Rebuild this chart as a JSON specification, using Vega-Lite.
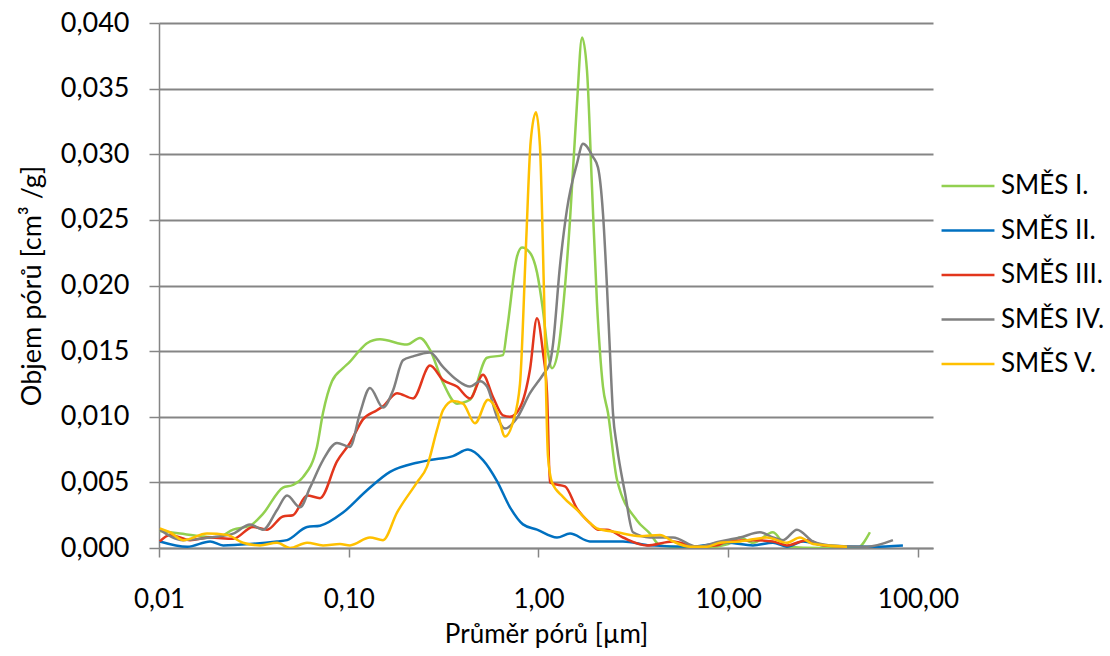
{
  "$schema": "https://vega.github.io/schema/vega-lite/v6.json",
  "autosize": "none",
  "padding": {"left": 159, "top": 23, "right": 177, "bottom": 108},
  "width": 774,
  "height": 525,
  "background": "white",
  "config": {
    "font": "Lato",
    "view": {"stroke": null}
  },
  "datasets": {
    "pores": [
      {"s": "SMĚS I.", "d": 0.0101, "v": 0.0013},
      {"s": "SMĚS I.", "d": 0.0129, "v": 0.0011},
      {"s": "SMĚS I.", "d": 0.0165, "v": 0.0009},
      {"s": "SMĚS I.", "d": 0.0202, "v": 0.0008},
      {"s": "SMĚS I.", "d": 0.0246, "v": 0.0014},
      {"s": "SMĚS I.", "d": 0.0302, "v": 0.0017},
      {"s": "SMĚS I.", "d": 0.0353, "v": 0.0026},
      {"s": "SMĚS I.", "d": 0.0450, "v": 0.0046},
      {"s": "SMĚS I.", "d": 0.0508, "v": 0.0048},
      {"s": "SMĚS I.", "d": 0.0574, "v": 0.0054},
      {"s": "SMĚS I.", "d": 0.0680, "v": 0.0077},
      {"s": "SMĚS I.", "d": 0.0732, "v": 0.0103},
      {"s": "SMĚS I.", "d": 0.0816, "v": 0.0127},
      {"s": "SMĚS I.", "d": 0.0933, "v": 0.0137},
      {"s": "SMĚS I.", "d": 0.1015, "v": 0.0142},
      {"s": "SMĚS I.", "d": 0.1147, "v": 0.0151},
      {"s": "SMĚS I.", "d": 0.1248, "v": 0.0156},
      {"s": "SMĚS I.", "d": 0.1461, "v": 0.0159},
      {"s": "SMĚS I.", "d": 0.2028, "v": 0.0155},
      {"s": "SMĚS I.", "d": 0.2374, "v": 0.0160},
      {"s": "SMĚS I.", "d": 0.2681, "v": 0.0151},
      {"s": "SMĚS I.", "d": 0.3139, "v": 0.0126},
      {"s": "SMĚS I.", "d": 0.3719, "v": 0.0110},
      {"s": "SMĚS I.", "d": 0.4356, "v": 0.0113},
      {"s": "SMĚS I.", "d": 0.5355, "v": 0.0145},
      {"s": "SMĚS I.", "d": 0.6500, "v": 0.0147},
      {"s": "SMĚS I.", "d": 0.6823, "v": 0.0166},
      {"s": "SMĚS I.", "d": 0.7704, "v": 0.0222},
      {"s": "SMĚS I.", "d": 0.8185, "v": 0.0229},
      {"s": "SMĚS I.", "d": 0.9020, "v": 0.0225},
      {"s": "SMĚS I.", "d": 0.9820, "v": 0.0210},
      {"s": "SMĚS I.", "d": 1.0561, "v": 0.0181},
      {"s": "SMĚS I.", "d": 1.122, "v": 0.0149},
      {"s": "SMĚS I.", "d": 1.178, "v": 0.0137},
      {"s": "SMĚS I.", "d": 1.267, "v": 0.0150},
      {"s": "SMĚS I.", "d": 1.379, "v": 0.0199},
      {"s": "SMĚS I.", "d": 1.466, "v": 0.0250},
      {"s": "SMĚS I.", "d": 1.596, "v": 0.0339},
      {"s": "SMĚS I.", "d": 1.696, "v": 0.0389},
      {"s": "SMĚS I.", "d": 1.801, "v": 0.0364},
      {"s": "SMĚS I.", "d": 1.914, "v": 0.0275},
      {"s": "SMĚS I.", "d": 2.033, "v": 0.0187},
      {"s": "SMĚS I.", "d": 2.187, "v": 0.0123},
      {"s": "SMĚS I.", "d": 2.324, "v": 0.0103},
      {"s": "SMĚS I.", "d": 2.593, "v": 0.0052},
      {"s": "SMĚS I.", "d": 3.304, "v": 0.0021},
      {"s": "SMĚS I.", "d": 3.869, "v": 0.0011},
      {"s": "SMĚS I.", "d": 4.369, "v": 0.0002},
      {"s": "SMĚS I.", "d": 5.115, "v": 0.0001},
      {"s": "SMĚS I.", "d": 7.099, "v": 0.0000},
      {"s": "SMĚS I.", "d": 10.0, "v": 0.0003},
      {"s": "SMĚS I.", "d": 11.53, "v": 0.0008},
      {"s": "SMĚS I.", "d": 13.5, "v": 0.0004},
      {"s": "SMĚS I.", "d": 17.21, "v": 0.0012},
      {"s": "SMĚS I.", "d": 20.4, "v": 0.0001},
      {"s": "SMĚS I.", "d": 30.44, "v": 0.0000},
      {"s": "SMĚS I.", "d": 47.7, "v": 0.0000},
      {"s": "SMĚS I.", "d": 55.8, "v": 0.0012},

      {"s": "SMĚS II.", "d": 0.0101, "v": 0.0005},
      {"s": "SMĚS II.", "d": 0.0141, "v": 0.0001},
      {"s": "SMĚS II.", "d": 0.0186, "v": 0.0005},
      {"s": "SMĚS II.", "d": 0.0218, "v": 0.0002},
      {"s": "SMĚS II.", "d": 0.0302, "v": 0.0003},
      {"s": "SMĚS II.", "d": 0.0419, "v": 0.0005},
      {"s": "SMĚS II.", "d": 0.0473, "v": 0.0006},
      {"s": "SMĚS II.", "d": 0.0603, "v": 0.0016},
      {"s": "SMĚS II.", "d": 0.0706, "v": 0.0017},
      {"s": "SMĚS II.", "d": 0.0933, "v": 0.0027},
      {"s": "SMĚS II.", "d": 0.1248, "v": 0.0044},
      {"s": "SMĚS II.", "d": 0.1650, "v": 0.0058},
      {"s": "SMĚS II.", "d": 0.2289, "v": 0.0065},
      {"s": "SMĚS II.", "d": 0.2681, "v": 0.0067},
      {"s": "SMĚS II.", "d": 0.3542, "v": 0.0070},
      {"s": "SMĚS II.", "d": 0.4251, "v": 0.0075},
      {"s": "SMĚS II.", "d": 0.5100, "v": 0.0067},
      {"s": "SMĚS II.", "d": 0.6045, "v": 0.0051},
      {"s": "SMĚS II.", "d": 0.7076, "v": 0.0031},
      {"s": "SMĚS II.", "d": 0.8285, "v": 0.0018},
      {"s": "SMĚS II.", "d": 0.9820, "v": 0.0014},
      {"s": "SMĚS II.", "d": 1.252, "v": 0.0008},
      {"s": "SMĚS II.", "d": 1.466, "v": 0.0011},
      {"s": "SMĚS II.", "d": 1.868, "v": 0.0005},
      {"s": "SMĚS II.", "d": 2.788, "v": 0.0005},
      {"s": "SMĚS II.", "d": 3.869, "v": 0.0002},
      {"s": "SMĚS II.", "d": 6.287, "v": 0.0001},
      {"s": "SMĚS II.", "d": 9.85, "v": 0.0004},
      {"s": "SMĚS II.", "d": 13.5, "v": 0.0002},
      {"s": "SMĚS II.", "d": 17.21, "v": 0.0004},
      {"s": "SMĚS II.", "d": 20.4, "v": 0.0001},
      {"s": "SMĚS II.", "d": 24.77, "v": 0.0005},
      {"s": "SMĚS II.", "d": 31.57, "v": 0.0002},
      {"s": "SMĚS II.", "d": 57.9, "v": 0.0001},
      {"s": "SMĚS II.", "d": 83.3, "v": 0.0002},

      {"s": "SMĚS III.", "d": 0.0101, "v": 0.0005},
      {"s": "SMĚS III.", "d": 0.0114, "v": 0.0010},
      {"s": "SMĚS III.", "d": 0.0146, "v": 0.0006},
      {"s": "SMĚS III.", "d": 0.0186, "v": 0.0008},
      {"s": "SMĚS III.", "d": 0.0246, "v": 0.0007},
      {"s": "SMĚS III.", "d": 0.0313, "v": 0.0016},
      {"s": "SMĚS III.", "d": 0.0371, "v": 0.0014},
      {"s": "SMĚS III.", "d": 0.0450, "v": 0.0024},
      {"s": "SMĚS III.", "d": 0.0508, "v": 0.0025},
      {"s": "SMĚS III.", "d": 0.0603, "v": 0.0040},
      {"s": "SMĚS III.", "d": 0.0706, "v": 0.0038},
      {"s": "SMĚS III.", "d": 0.0867, "v": 0.0066},
      {"s": "SMĚS III.", "d": 0.1015, "v": 0.0080},
      {"s": "SMĚS III.", "d": 0.1189, "v": 0.0098},
      {"s": "SMĚS III.", "d": 0.1409, "v": 0.0105},
      {"s": "SMĚS III.", "d": 0.1516, "v": 0.0108},
      {"s": "SMĚS III.", "d": 0.1796, "v": 0.0118},
      {"s": "SMĚS III.", "d": 0.2182, "v": 0.0114},
      {"s": "SMĚS III.", "d": 0.2681, "v": 0.0139},
      {"s": "SMĚS III.", "d": 0.3139, "v": 0.0128},
      {"s": "SMĚS III.", "d": 0.3719, "v": 0.0123},
      {"s": "SMĚS III.", "d": 0.4356, "v": 0.0114},
      {"s": "SMĚS III.", "d": 0.5100, "v": 0.0132},
      {"s": "SMĚS III.", "d": 0.5757, "v": 0.0115},
      {"s": "SMĚS III.", "d": 0.6500, "v": 0.0101},
      {"s": "SMĚS III.", "d": 0.7076, "v": 0.0100},
      {"s": "SMĚS III.", "d": 0.7989, "v": 0.0107},
      {"s": "SMĚS III.", "d": 0.9020, "v": 0.0136},
      {"s": "SMĚS III.", "d": 0.9820, "v": 0.0175},
      {"s": "SMĚS III.", "d": 1.056, "v": 0.0149},
      {"s": "SMĚS III.", "d": 1.109, "v": 0.0118},
      {"s": "SMĚS III.", "d": 1.150, "v": 0.0050},
      {"s": "SMĚS III.", "d": 1.193, "v": 0.0049},
      {"s": "SMĚS III.", "d": 1.379, "v": 0.0047},
      {"s": "SMĚS III.", "d": 1.596, "v": 0.0030},
      {"s": "SMĚS III.", "d": 1.868, "v": 0.0019},
      {"s": "SMĚS III.", "d": 2.070, "v": 0.0014},
      {"s": "SMĚS III.", "d": 2.296, "v": 0.0014},
      {"s": "SMĚS III.", "d": 2.788, "v": 0.0008},
      {"s": "SMĚS III.", "d": 3.730, "v": 0.0002},
      {"s": "SMĚS III.", "d": 5.115, "v": 0.0005},
      {"s": "SMĚS III.", "d": 6.844, "v": 0.0001},
      {"s": "SMĚS III.", "d": 8.72, "v": 0.0002},
      {"s": "SMĚS III.", "d": 9.85, "v": 0.0005},
      {"s": "SMĚS III.", "d": 13.5, "v": 0.0006},
      {"s": "SMĚS III.", "d": 17.21, "v": 0.0005},
      {"s": "SMĚS III.", "d": 20.4, "v": 0.0002},
      {"s": "SMĚS III.", "d": 26.0, "v": 0.0006},
      {"s": "SMĚS III.", "d": 31.57, "v": 0.0002},
      {"s": "SMĚS III.", "d": 42.25, "v": 0.0001},

      {"s": "SMĚS IV.", "d": 0.0101, "v": 0.0014},
      {"s": "SMĚS IV.", "d": 0.0134, "v": 0.0006},
      {"s": "SMĚS IV.", "d": 0.0186, "v": 0.0008},
      {"s": "SMĚS IV.", "d": 0.0246, "v": 0.0011},
      {"s": "SMĚS IV.", "d": 0.0302, "v": 0.0018},
      {"s": "SMĚS IV.", "d": 0.0353, "v": 0.0014},
      {"s": "SMĚS IV.", "d": 0.0419, "v": 0.0029},
      {"s": "SMĚS IV.", "d": 0.0473, "v": 0.0040},
      {"s": "SMĚS IV.", "d": 0.0554, "v": 0.0031},
      {"s": "SMĚS IV.", "d": 0.0625, "v": 0.0046},
      {"s": "SMĚS IV.", "d": 0.0732, "v": 0.0067},
      {"s": "SMĚS IV.", "d": 0.0867, "v": 0.0080},
      {"s": "SMĚS IV.", "d": 0.1015, "v": 0.0077},
      {"s": "SMĚS IV.", "d": 0.1147, "v": 0.0103},
      {"s": "SMĚS IV.", "d": 0.1294, "v": 0.0122},
      {"s": "SMĚS IV.", "d": 0.1516, "v": 0.0107},
      {"s": "SMĚS IV.", "d": 0.1711, "v": 0.0120},
      {"s": "SMĚS IV.", "d": 0.1931, "v": 0.0143},
      {"s": "SMĚS IV.", "d": 0.2182, "v": 0.0146},
      {"s": "SMĚS IV.", "d": 0.2681, "v": 0.0149},
      {"s": "SMĚS IV.", "d": 0.3139, "v": 0.0138},
      {"s": "SMĚS IV.", "d": 0.3719, "v": 0.0128},
      {"s": "SMĚS IV.", "d": 0.4356, "v": 0.0123},
      {"s": "SMĚS IV.", "d": 0.4918, "v": 0.0127},
      {"s": "SMĚS IV.", "d": 0.5355, "v": 0.0123},
      {"s": "SMĚS IV.", "d": 0.6045, "v": 0.0100},
      {"s": "SMĚS IV.", "d": 0.6662, "v": 0.0091},
      {"s": "SMĚS IV.", "d": 0.7704, "v": 0.0099},
      {"s": "SMĚS IV.", "d": 0.9020, "v": 0.0118},
      {"s": "SMĚS IV.", "d": 1.056, "v": 0.0132},
      {"s": "SMĚS IV.", "d": 1.150, "v": 0.0141},
      {"s": "SMĚS IV.", "d": 1.192, "v": 0.0155},
      {"s": "SMĚS IV.", "d": 1.298, "v": 0.0215},
      {"s": "SMĚS IV.", "d": 1.413, "v": 0.0258},
      {"s": "SMĚS IV.", "d": 1.596, "v": 0.0293},
      {"s": "SMĚS IV.", "d": 1.716, "v": 0.0308},
      {"s": "SMĚS IV.", "d": 1.937, "v": 0.0298},
      {"s": "SMĚS IV.", "d": 2.058, "v": 0.0290},
      {"s": "SMĚS IV.", "d": 2.187, "v": 0.0255},
      {"s": "SMĚS IV.", "d": 2.296, "v": 0.0199},
      {"s": "SMĚS IV.", "d": 2.381, "v": 0.0149},
      {"s": "SMĚS IV.", "d": 2.469, "v": 0.0103},
      {"s": "SMĚS IV.", "d": 2.593, "v": 0.0077},
      {"s": "SMĚS IV.", "d": 2.857, "v": 0.0042},
      {"s": "SMĚS IV.", "d": 3.148, "v": 0.0012},
      {"s": "SMĚS IV.", "d": 3.869, "v": 0.0008},
      {"s": "SMĚS IV.", "d": 5.115, "v": 0.0008},
      {"s": "SMĚS IV.", "d": 6.844, "v": 0.0001},
      {"s": "SMĚS IV.", "d": 9.05, "v": 0.0005},
      {"s": "SMĚS IV.", "d": 11.53, "v": 0.0008},
      {"s": "SMĚS IV.", "d": 14.70, "v": 0.0012},
      {"s": "SMĚS IV.", "d": 17.21, "v": 0.0008},
      {"s": "SMĚS IV.", "d": 19.44, "v": 0.0006},
      {"s": "SMĚS IV.", "d": 23.03, "v": 0.0014},
      {"s": "SMĚS IV.", "d": 27.97, "v": 0.0005},
      {"s": "SMĚS IV.", "d": 34.38, "v": 0.0002},
      {"s": "SMĚS IV.", "d": 53.85, "v": 0.0001},
      {"s": "SMĚS IV.", "d": 73.8, "v": 0.0006},

      {"s": "SMĚS V.", "d": 0.0101, "v": 0.0015},
      {"s": "SMĚS V.", "d": 0.0114, "v": 0.0012},
      {"s": "SMĚS V.", "d": 0.0134, "v": 0.0006},
      {"s": "SMĚS V.", "d": 0.0179, "v": 0.0011},
      {"s": "SMĚS V.", "d": 0.0228, "v": 0.0010},
      {"s": "SMĚS V.", "d": 0.0277, "v": 0.0004},
      {"s": "SMĚS V.", "d": 0.0341, "v": 0.0002},
      {"s": "SMĚS V.", "d": 0.0419, "v": 0.0004},
      {"s": "SMĚS V.", "d": 0.0490, "v": 0.0000},
      {"s": "SMĚS V.", "d": 0.0603, "v": 0.0004},
      {"s": "SMĚS V.", "d": 0.0732, "v": 0.0002},
      {"s": "SMĚS V.", "d": 0.0899, "v": 0.0003},
      {"s": "SMĚS V.", "d": 0.1015, "v": 0.0002},
      {"s": "SMĚS V.", "d": 0.1294, "v": 0.0008},
      {"s": "SMĚS V.", "d": 0.1516, "v": 0.0006},
      {"s": "SMĚS V.", "d": 0.1796, "v": 0.0027},
      {"s": "SMĚS V.", "d": 0.2289, "v": 0.0050},
      {"s": "SMĚS V.", "d": 0.2585, "v": 0.0062},
      {"s": "SMĚS V.", "d": 0.2918, "v": 0.0090},
      {"s": "SMĚS V.", "d": 0.3139, "v": 0.0105},
      {"s": "SMĚS V.", "d": 0.3542, "v": 0.0112},
      {"s": "SMĚS V.", "d": 0.4000, "v": 0.0110},
      {"s": "SMĚS V.", "d": 0.4627, "v": 0.0095},
      {"s": "SMĚS V.", "d": 0.5421, "v": 0.0113},
      {"s": "SMĚS V.", "d": 0.6045, "v": 0.0104},
      {"s": "SMĚS V.", "d": 0.6662, "v": 0.0085},
      {"s": "SMĚS V.", "d": 0.7337, "v": 0.0096},
      {"s": "SMĚS V.", "d": 0.7989, "v": 0.0125},
      {"s": "SMĚS V.", "d": 0.8590, "v": 0.0230},
      {"s": "SMĚS V.", "d": 0.9100, "v": 0.0310},
      {"s": "SMĚS V.", "d": 0.9701, "v": 0.0332},
      {"s": "SMĚS V.", "d": 1.018, "v": 0.0306},
      {"s": "SMĚS V.", "d": 1.067, "v": 0.0200},
      {"s": "SMĚS V.", "d": 1.122, "v": 0.0070},
      {"s": "SMĚS V.", "d": 1.178, "v": 0.0050},
      {"s": "SMĚS V.", "d": 1.346, "v": 0.0039},
      {"s": "SMĚS V.", "d": 1.596, "v": 0.0029},
      {"s": "SMĚS V.", "d": 1.868, "v": 0.0019},
      {"s": "SMĚS V.", "d": 2.033, "v": 0.0015},
      {"s": "SMĚS V.", "d": 2.593, "v": 0.0012},
      {"s": "SMĚS V.", "d": 3.426, "v": 0.0009},
      {"s": "SMĚS V.", "d": 4.369, "v": 0.0010},
      {"s": "SMĚS V.", "d": 5.115, "v": 0.0005},
      {"s": "SMĚS V.", "d": 6.287, "v": 0.0001},
      {"s": "SMĚS V.", "d": 7.727, "v": 0.0001},
      {"s": "SMĚS V.", "d": 9.05, "v": 0.0004},
      {"s": "SMĚS V.", "d": 11.53, "v": 0.0005},
      {"s": "SMĚS V.", "d": 16.0, "v": 0.0008},
      {"s": "SMĚS V.", "d": 20.4, "v": 0.0004},
      {"s": "SMĚS V.", "d": 23.88, "v": 0.0008},
      {"s": "SMĚS V.", "d": 27.97, "v": 0.0003},
      {"s": "SMĚS V.", "d": 42.25, "v": 0.0001}
    ]
  },
  "data": {"name": "pores"},
  "mark": {"type": "line", "interpolate": "monotone", "strokeWidth": 2.5, "clip": true},
  "encoding": {
    "x": {
      "field": "d",
      "type": "quantitative",
      "title": "Průměr pórů [µm]",
      "scale": {"type": "log", "domain": [0.01, 120], "nice": false},
      "axis": {
        "values": [0.01, 0.1, 1, 10, 100],
        "labelExpr": "replace(format(datum.value, '.2f'), '.', ',')",
        "grid": false,
        "domainColor": "#858585",
        "domainWidth": 1.5,
        "tickColor": "#858585",
        "tickWidth": 1.5,
        "tickSize": 9,
        "labelFontSize": 26,
        "labelColor": "#000000",
        "labelPadding": 29,
        "labelFont": "Lato",
        "labelFlush": false,
        "titleFontSize": 26,
        "titleFont": "Lato",
        "titleFontWeight": "normal",
        "titleColor": "#000000",
        "titlePadding": 9
      }
    },
    "y": {
      "field": "v",
      "type": "quantitative",
      "title": "Objem pórů [cm³ /g]",
      "scale": {"domain": [0, 0.04], "nice": false, "zero": true},
      "axis": {
        "values": [0, 0.005, 0.01, 0.015, 0.02, 0.025, 0.03, 0.035, 0.04],
        "labelExpr": "replace(format(datum.value, '.3f'), '.', ',')",
        "grid": true,
        "gridColor": "#858585",
        "gridWidth": 1.8,
        "domainColor": "#858585",
        "domainWidth": 1.5,
        "tickColor": "#858585",
        "tickWidth": 1.5,
        "tickSize": 10,
        "labelFontSize": 27,
        "labelColor": "#000000",
        "labelPadding": 20,
        "labelFont": "Lato",
        "labelFlush": false,
        "titleFontSize": 27,
        "titleFont": "Lato",
        "titleFontWeight": "normal",
        "titleColor": "#000000",
        "titlePadding": 14
      }
    },
    "color": {
      "field": "s",
      "type": "nominal",
      "scale": {
        "domain": ["SMĚS I.", "SMĚS II.", "SMĚS III.", "SMĚS IV.", "SMĚS V."],
        "range": ["#92D050", "#0070C0", "#E2361C", "#808080", "#FFC000"]
      },
      "legend": {
        "title": null,
        "orient": "none",
        "legendX": 781,
        "legendY": 135,
        "symbolType": "stroke",
        "symbolSize": 2800,
        "symbolStrokeWidth": 2.5,
        "labelFontSize": 26,
        "labelFont": "Lato",
        "labelColor": "#000000",
        "labelOffset": 5,
        "rowPadding": 3.5,
        "padding": 0
      }
    }
  }
}
